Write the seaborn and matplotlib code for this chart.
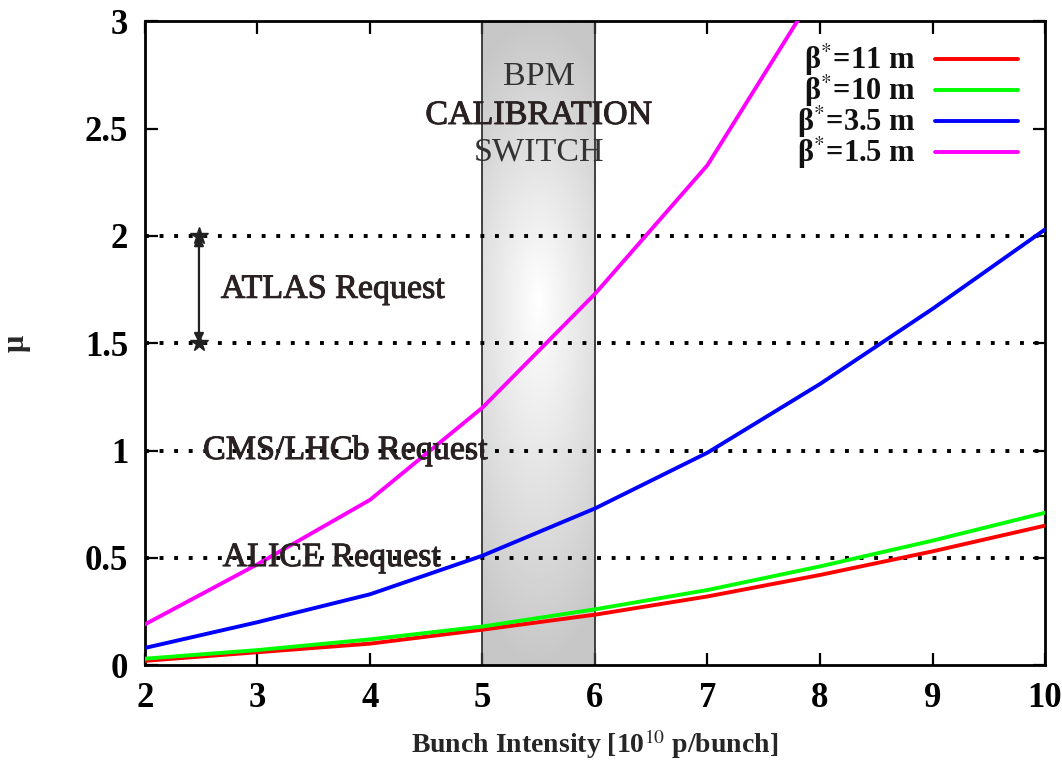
import numpy as np
import pandas as pd
import matplotlib
matplotlib.use("Agg")
import matplotlib.pyplot as plt
import matplotlib.patheffects as pe
import seaborn as sns

# Bunch intensity [1e10 p/bunch]
intensity = [2, 3, 4, 5, 6, 7, 8, 9, 10]

# pile-up mu for each beta*
mu_11m = [0.02, 0.06, 0.10, 0.165, 0.235, 0.32, 0.42, 0.53, 0.65]
mu_10m = [0.03, 0.07, 0.12, 0.18, 0.26, 0.35, 0.46, 0.58, 0.71]
mu_3p5m = [0.08, 0.20, 0.33, 0.51, 0.73, 0.99, 1.31, 1.66, 2.03]
mu_1p5m = [0.19, 0.47, 0.77, 1.20, 1.73, 2.33, 3.17]

series_labels = ["β$^{*}$=11 m", "β$^{*}$=10 m", "β$^{*}$=3.5 m", "β$^{*}$=1.5 m"]
series_colors = ["#ff0000", "#00ff00", "#0000ff", "#ff00ff"]

request_levels = [0.5, 1.0, 1.5, 2.0]
atlas_range = [1.5, 2.0]
calib_window = [5, 6]

x_ticks = [2, 3, 4, 5, 6, 7, 8, 9, 10]
y_ticks = [0, 0.5, 1, 1.5, 2, 2.5, 3]
y_ticklabels = ["0", "0.5", "1", "1.5", "2", "2.5", "3"]

rows = []
for lab, vals in zip(series_labels, [mu_11m, mu_10m, mu_3p5m, mu_1p5m]):
    for xv, yv in zip(intensity, vals):
        rows.append({"intensity": xv, "mu": yv, "beta": lab})
df = pd.DataFrame(rows)

sns.set_theme(style="ticks")
plt.rcParams["font.family"] = ["Liberation Serif", "DejaVu Serif"]
plt.rcParams["mathtext.fontset"] = "stix"

fig = plt.figure(figsize=(10.62, 7.61), dpi=100)
ax = fig.add_axes([0.1365, 0.126, 0.8475, 0.846])

ax.set_xlim(2, 10)
ax.set_ylim(0, 3)

# shaded calibration window: grey band brightening towards its middle
gx = np.linspace(-1, 1, 200)
gy = np.linspace(0, 3, 400)
GX, GY = np.meshgrid(gx, gy)
dy = np.where(GY > 1.7, (GY - 1.7) / 1.3, (1.7 - GY) / 1.7)
dist = np.sqrt(dy ** 2 + 0.3 * GX ** 2)
shade = 1.0 - 0.22 * np.clip(dist, 0, 1.0)
ax.imshow(shade, extent=[calib_window[0], calib_window[1], 0, 3], origin="lower",
          cmap="gray", vmin=0, vmax=1, aspect="auto", zorder=0.5, interpolation="bilinear")
for xv in calib_window:
    ax.axvline(xv, color="#333333", lw=1.3, zorder=0.6)

# experiment request levels
for lvl in request_levels:
    ax.axhline(lvl, color="black", lw=2.8, linestyle=(0, (1, 2.75)),
               dash_capstyle="butt", zorder=1)

sns.lineplot(data=df, x="intensity", y="mu", hue="beta", hue_order=series_labels,
             palette=series_colors, lw=2.8, ax=ax, zorder=3, legend=True)

# ATLAS request span
ax.annotate("", xy=(2.48, atlas_range[1]), xytext=(2.48, atlas_range[0]),
            arrowprops=dict(arrowstyle="<|-|>", color="#222222", lw=1.6,
                            mutation_scale=14, shrinkA=0, shrinkB=0), zorder=4)
ax.plot([2.48, 2.48], atlas_range, linestyle="none", marker="*", ms=13,
        color="#222222", zorder=4)

heavy = [pe.withStroke(linewidth=0.7, foreground="#2a2222")]
txt_kw = dict(color="#2a2222", fontsize=24.5, ha="center", va="center", zorder=5,
              path_effects=heavy)
light_kw = dict(color="#333333", fontsize=24.5, ha="center", va="center", zorder=5)
ax.text(3.67, 1.75, "ATLAS Request", **txt_kw)
ax.text(3.78, 1.0, "CMS/LHCb Request", **txt_kw)
ax.text(3.66, 0.5, "ALICE Request", **txt_kw)
ax.text(5.5, 2.74, "BPM", **light_kw)
ax.text(5.5, 2.56, "CALIBRATION", **txt_kw)
ax.text(5.5, 2.39, "SWITCH", **light_kw)

leg = ax.legend(loc="upper right", bbox_to_anchor=(0.99, 0.996), frameon=False,
                markerfirst=False, handlelength=2.7, handletextpad=0.65,
                labelspacing=-0.17, fontsize=22, borderaxespad=0.2)
for t in leg.get_texts():
    t.set_fontweight("bold")
    t.set_color("#111111")
for ln in leg.get_lines():
    ln.set_linewidth(2.8)

ax.set_xticks(x_ticks)
ax.set_xticklabels([str(v) for v in x_ticks])
ax.set_yticks(y_ticks)
ax.set_yticklabels(y_ticklabels)
ax.tick_params(direction="in", length=9, width=1.6, top=True, right=True,
               labelsize=25, colors="black")
ax.tick_params(axis="x", pad=12)
ax.tick_params(axis="y", pad=12)
for lab in ax.get_xticklabels() + ax.get_yticklabels():
    lab.set_fontweight("bold")
for sp in ax.spines.values():
    sp.set_linewidth(2)
    sp.set_color("black")

ax.set_xlabel("Bunch Intensity [10$^{10}$ p/bunch]", fontsize=20, fontweight="bold")
ax.xaxis.set_label_coords(0.5, -0.097)
ax.set_ylabel("μ", fontsize=22, fontweight="bold", rotation=90)
ax.yaxis.set_label_coords(-0.127, 0.5)

fig.savefig("out.png", dpi=100, facecolor="white")
